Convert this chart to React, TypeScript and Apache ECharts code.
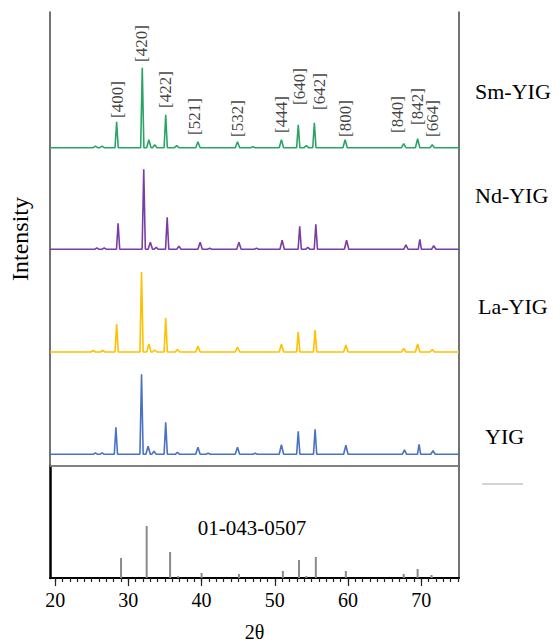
import React, { useEffect, useRef } from "react";
import * as echarts from "echarts";

// ---------- data ----------
// peak positions (2θ, degrees) and heights (arbitrary units) for each pattern
const SERIES_NAMES = ["Sm-YIG", "Nd-YIG", "La-YIG", "YIG"];

const SM_YIG_PEAKS: [number, number][] = [
  [25.5, 1.5], [26.4, 1.5], [28.4, 26], [31.9, 80], [32.8, 8], [33.6, 3], [35.1, 33],
  [36.6, 2], [39.5, 6], [44.9, 6], [47.0, 1], [50.9, 8], [53.2, 23], [54.3, 2],
  [55.4, 25], [59.6, 8], [67.6, 4], [69.5, 9], [71.5, 3],
];
const ND_YIG_PEAKS: [number, number][] = [
  [25.7, 1.5], [26.7, 1.5], [28.6, 26], [32.1, 80], [33.0, 7], [33.8, 2], [35.3, 32],
  [36.9, 3], [39.8, 7], [41.1, 1], [45.1, 7], [47.5, 1], [51.0, 9], [53.4, 23],
  [54.5, 2], [55.6, 25], [59.8, 9], [67.9, 4.5], [69.8, 10], [71.7, 3.5],
];
const LA_YIG_PEAKS: [number, number][] = [
  [25.2, 1.5], [26.5, 1.5], [28.4, 28], [31.8, 80], [32.8, 8], [33.6, 2], [35.1, 34],
  [36.7, 2.5], [39.5, 6], [44.9, 5], [50.9, 8], [53.2, 20], [55.5, 22], [59.7, 7],
  [67.6, 3.5], [69.5, 8], [71.5, 2.5],
];
const YIG_PEAKS: [number, number][] = [
  [25.5, 1.5], [26.4, 1.5], [28.3, 27], [31.8, 80], [32.7, 8], [33.5, 3], [35.1, 32],
  [36.7, 2], [39.5, 7], [40.9, 1], [44.9, 7], [47.3, 1], [50.9, 9.5], [53.2, 23],
  [55.5, 25], [59.7, 9], [67.7, 4.5], [69.7, 10], [71.6, 3.5],
];

// reference card 01-043-0507 stick pattern
const REF_CARD = "01-043-0507";
const REF_PEAKS: [number, number][] = [
  [29.0, 20], [32.5, 52], [35.7, 26], [36.8, 2], [40.0, 5], [45.1, 4], [51.1, 7],
  [53.3, 18], [54.3, 2], [55.6, 21], [59.7, 7], [67.6, 4], [69.5, 9], [71.4, 3],
];

// Miller indices labels and the 2θ where each sits
const HKL_LABELS = ["[400]", "[420]", "[422]", "[521]", "[532]", "[444]", "[640]", "[642]", "[800]", "[840]", "[842]", "[664]"];
const HKL_2THETA = [28.5, 31.73, 35.04, 39.09, 44.86, 50.92, 53.42, 56.14, 59.68, 66.82, 69.55, 71.59];

// axis ticks
const MAJOR_TICKS = [20, 30, 40, 50, 60, 70];
const MINOR_TICKS: number[] = [];
for (let t = 20; t <= 75; t++) MINOR_TICKS.push(t);

// ---------- layout / style ----------
const X_MIN = 19.3;
const X_MAX = 75.15;
const UPPER_MAX = 454;
const LOWER_MAX = 112;
const OFFSETS = [318.3, 216.7, 114, 11.7]; // vertical stacking of the four patterns
const HKL_LABEL_Y = [348, 404, 358, 331, 329, 333, 361, 356, 329, 333, 341, 329];
const COLORS = ["#2aa566", "#7a3da6", "#ffc000", "#4a72c4"];
const LEGEND_POS = [
  [475, 91],
  [475, 195],
  [478, 306],
  [485, 436],
];
const FONT = "'Liberation Serif', 'Times New Roman', serif";

function buildProfile(peaks: [number, number][], offset: number) {
  const pts: [number, number][] = [[X_MIN, offset]];
  peaks.forEach(([t, h]) => {
    const hw = h < 10 ? 0.3 : 0.22;
    pts.push([t - hw, offset], [t, offset + h], [t + hw, offset]);
  });
  pts.push([X_MAX, offset]);
  return pts;
}

export default function App() {
  const ref = useRef<HTMLDivElement>(null);

  useEffect(() => {
    if (!ref.current) return;
    const chart = echarts.init(ref.current, null, { renderer: "svg" });
    const patterns = [SM_YIG_PEAKS, ND_YIG_PEAKS, LA_YIG_PEAKS, YIG_PEAKS];

    const lineSeries = patterns.map((p, i) => ({
      name: SERIES_NAMES[i],
      type: "line",
      xAxisIndex: 0,
      yAxisIndex: 0,
      data: buildProfile(p, OFFSETS[i]),
      symbol: "none",
      lineStyle: { color: COLORS[i], width: 1.6 },
      itemStyle: { color: COLORS[i] },
      z: 3,
    }));

    const option: any = {
      animation: false,
      textStyle: { fontFamily: FONT },
      grid: [
        { left: 50, top: 12, width: 409, height: UPPER_MAX },
        { left: 50, top: 466, width: 409, height: LOWER_MAX },
      ],
      xAxis: [
        {
          type: "value", gridIndex: 0, min: X_MIN, max: X_MAX, position: "top",
          axisLine: { show: true, lineStyle: { color: "#444", width: 1.5 } },
          axisTick: { show: false }, axisLabel: { show: false }, splitLine: { show: false },
        },
        {
          type: "value", gridIndex: 1, min: X_MIN, max: X_MAX, position: "bottom",
          axisLine: { show: true, onZero: false, lineStyle: { color: "#000", width: 2 } },
          axisTick: { show: true, customValues: MINOR_TICKS, length: 4, lineStyle: { color: "#222", width: 1.2 } },
          axisLabel: { show: true, customValues: MAJOR_TICKS, margin: 12, fontSize: 20, color: "#000", fontFamily: FONT },
          splitLine: { show: false },
          name: "2θ", nameLocation: "middle", nameGap: 44,
          nameTextStyle: { fontSize: 20, color: "#000", fontFamily: FONT },
        },
        {
          type: "value", gridIndex: 1, min: X_MIN, max: X_MAX, position: "bottom",
          axisLine: { show: false },
          axisTick: { show: true, customValues: MAJOR_TICKS, length: 8, lineStyle: { color: "#222", width: 1.2 } },
          axisLabel: { show: false }, splitLine: { show: false },
        },
        {
          type: "value", gridIndex: 1, min: X_MIN, max: X_MAX, position: "top",
          axisLine: { show: true, onZero: false, lineStyle: { color: "#888", width: 1.5 } },
          axisTick: { show: false }, axisLabel: { show: false }, splitLine: { show: false },
        },
      ],
      yAxis: [
        {
          type: "value", gridIndex: 0, min: 0, max: UPPER_MAX, position: "left",
          axisLine: { show: true, lineStyle: { color: "#444", width: 1.5 } },
          axisTick: { show: false }, axisLabel: { show: false }, splitLine: { show: false },
          name: "Intensity", nameLocation: "middle", nameGap: 18,
          nameTextStyle: { fontSize: 24, color: "#000", fontFamily: FONT },
        },
        {
          type: "value", gridIndex: 0, min: 0, max: UPPER_MAX, position: "right",
          axisLine: { show: true, lineStyle: { color: "#444", width: 1.5 } },
          axisTick: { show: false }, axisLabel: { show: false }, splitLine: { show: false },
        },
        {
          type: "value", gridIndex: 1, min: 0, max: LOWER_MAX, position: "left",
          axisLine: { show: true, lineStyle: { color: "#000", width: 2.5 } },
          axisTick: { show: false }, axisLabel: { show: false }, splitLine: { show: false },
        },
        {
          type: "value", gridIndex: 1, min: 0, max: LOWER_MAX, position: "right",
          axisLine: { show: true, lineStyle: { color: "#444", width: 1.5 } },
          axisTick: { show: false }, axisLabel: { show: false }, splitLine: { show: false },
        },
      ],
      series: [
        ...lineSeries,
        {
          name: REF_CARD,
          type: "bar",
          xAxisIndex: 1,
          yAxisIndex: 2,
          barWidth: 2,
          data: REF_PEAKS,
          itemStyle: { color: "#8a8a8a" },
          z: 2,
        },
        {
          name: "hkl",
          type: "scatter",
          xAxisIndex: 0,
          yAxisIndex: 0,
          symbolSize: 0,
          data: HKL_LABELS.map((l, i) => ({ name: l, value: [HKL_2THETA[i], HKL_LABEL_Y[i]] })),
          label: {
            show: true,
            formatter: "{b}",
            position: "inside",
            align: "left",
            verticalAlign: "middle",
            rotate: 90,
            fontSize: 17,
            color: "#111",
            fontFamily: FONT,
          },
          z: 5,
        },
      ],
      graphic: [
        ...SERIES_NAMES.map((n, i) => ({
          type: "text",
          x: LEGEND_POS[i][0],
          y: LEGEND_POS[i][1],
          style: { text: n, fontSize: 22, fill: "#000", fontFamily: FONT, textVerticalAlign: "middle", verticalAlign: "middle" },
        })),
        {
          type: "text",
          x: 252,
          y: 528,
          style: { text: REF_CARD, fontSize: 21, fill: "#000", fontFamily: FONT, align: "center", verticalAlign: "middle" },
        },
        {
          type: "line",
          shape: { x1: 482, y1: 484, x2: 523, y2: 484 },
          style: { stroke: "#c4c4c4", lineWidth: 1.5 },
        },
      ],
    };

    chart.setOption(option);
    return () => chart.dispose();
  }, []);

  return (
    <div
      ref={ref}
      style={{ position: "fixed", left: 0, top: 0, width: 560, height: 644, background: "#fff" }}
    />
  );
}
